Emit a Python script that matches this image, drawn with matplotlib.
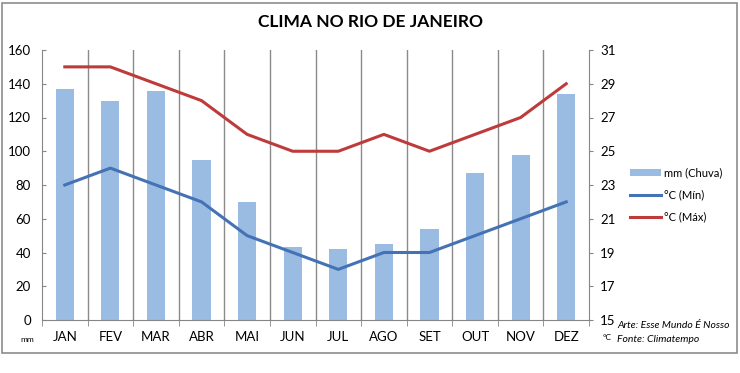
import numpy as np
import matplotlib.pyplot as plt
from matplotlib.patches import Rectangle

plt.rcParams['font.family'] = ['Lato', 'DejaVu Sans']

meses = ['JAN', 'FEV', 'MAR', 'ABR', 'MAI', 'JUN', 'JUL', 'AGO', 'SET', 'OUT', 'NOV', 'DEZ']
chuva = [137, 130, 136, 95, 70, 43, 42, 45, 54, 87, 98, 134]
t_min = [23, 24, 23, 22, 20, 19, 18, 19, 19, 20, 21, 22]
t_max = [30, 30, 29, 28, 26, 25, 25, 26, 25, 26, 27, 29]

cor_barra = '#9abbe2'
cor_min = '#4472b4'
cor_max = '#be3b3b'
cinza = '#868686'

fig = plt.figure(figsize=(7.4, 3.73), dpi=100)
fig.patches.append(Rectangle((2 / 740, 20 / 373), 735 / 740, 350 / 373, transform=fig.transFigure,
                             fill=False, edgecolor='#8c8c8c', linewidth=1.2))

ax = fig.add_axes([42 / 740, 53 / 373, 547 / 740, 270 / 373])
x = np.arange(len(meses))

# linhas verticais entre os meses
for b in np.arange(0.5, len(meses) - 0.5, 1):
    ax.axvline(b, color='#8a8a8a', linewidth=1, zorder=0)

barras = ax.bar(x, chuva, width=0.4, color=cor_barra, zorder=2, label='mm (Chuva)')
ax.set_ylim(0, 160)
ax.set_yticks(np.arange(0, 161, 20))
ax.set_xlim(-0.5, len(meses) - 0.5)
ax.set_xticks(x)
ax.set_xticklabels(meses)
ax.set_xticks(np.arange(-0.5, len(meses), 1), minor=True)
ax.tick_params(axis='x', which='major', length=0, pad=8, labelsize=9.5)
ax.tick_params(axis='x', which='minor', length=4, color=cinza, direction='out')
ax.tick_params(axis='y', length=3, color=cinza, direction='in', labelsize=9.5, pad=8)

ax2 = ax.twinx()
l1, = ax2.plot(x, t_min, color=cor_min, linewidth=2.2, zorder=3, label='°C (Mín)')
l2, = ax2.plot(x, t_max, color=cor_max, linewidth=2.2, zorder=3, label='°C (Máx)')
ax2.set_ylim(15, 31)
ax2.set_yticks(np.arange(15, 32, 2))
ax2.tick_params(axis='y', length=3, color=cinza, labelsize=9.5, pad=5)

for a in (ax, ax2):
    a.spines['top'].set_visible(False)
    for s in ('left', 'right', 'bottom'):
        a.spines[s].set_color(cinza)
ax.spines['right'].set_visible(False)
ax2.spines['left'].set_visible(False)
ax2.spines['bottom'].set_visible(False)

fig.text(0.5, 1 - 22 / 373, 'CLIMA NO RIO DE JANEIRO', ha='center', va='center',
         fontsize=12.5, fontweight='bold')
fig.text(27 / 740, 1 - 339 / 373, 'mm', ha='center', va='center', fontsize=6)
fig.text(607 / 740, 1 - 338 / 373, '°C', ha='center', va='center', fontsize=6)
fig.text(617 / 740, 1 - 326 / 373, 'Arte: Esse Mundo É Nosso', ha='left', va='center',
         fontsize=7.5, style='italic')
fig.text(617 / 740, 1 - 339 / 373, 'Fonte: Climatempo', ha='left', va='center',
         fontsize=7.5, style='italic')

fig.legend(handles=[barras, l1, l2], loc='center left',
           bbox_to_anchor=(620 / 740, 1 - 195 / 373), frameon=False, fontsize=8,
           handlelength=2.8, handleheight=0.6, handletextpad=0.3, labelspacing=1.0)

fig.savefig('out.png', dpi=100)
